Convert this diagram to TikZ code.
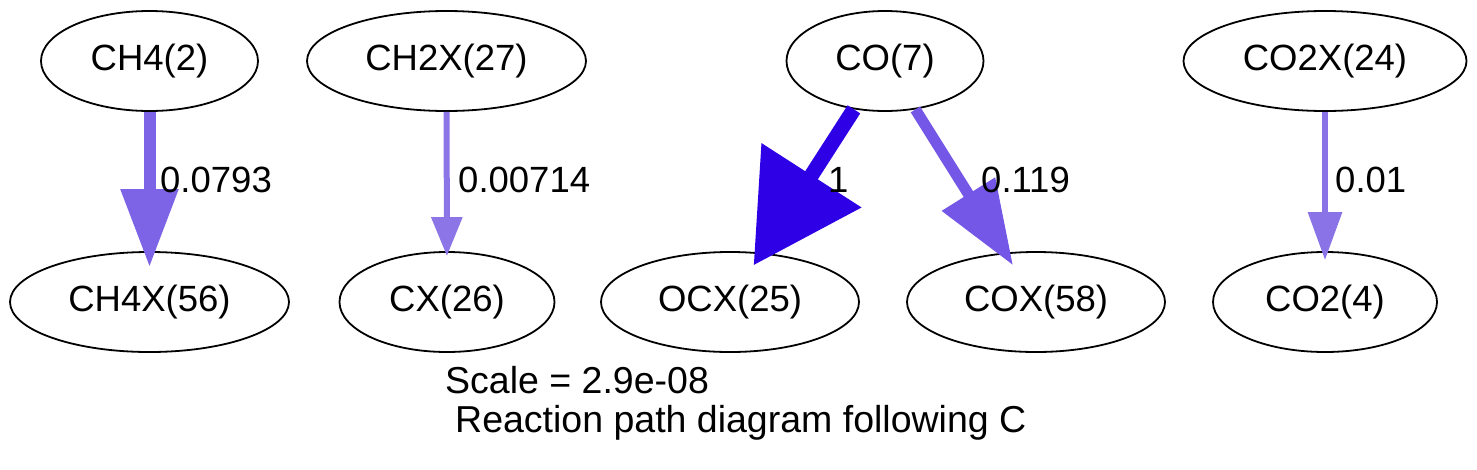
\documentclass[tikz,border=0pt]{standalone}
\usepackage{fontspec}
\setmainfont{Liberation Sans}
\usetikzlibrary{arrows.meta,shapes.geometric}
\definecolor{FluxFull}{RGB}{46,0,230}
\definecolor{FluxCOX}{RGB}{116,87,230}
\definecolor{FluxCHFour}{RGB}{125,99,230}
\definecolor{FluxCHTwoX}{RGB}{140,117,230}
\definecolor{FluxCOTwoX}{RGB}{138,115,230}

\begin{document}
\begin{tikzpicture}[x=1pt, y=-1pt,
    species/.style={ellipse, draw, line width=1.8pt, inner sep=0pt,
      minimum height=100pt, font=\fontsize{36.5}{44}\selectfont},
    flux/.style={inner sep=0pt, anchor=base west, font=\fontsize{36.5}{44}\selectfont},
    caption/.style={inner sep=0pt, anchor=base west, font=\fontsize{37.5}{45}\selectfont}]

    \useasboundingbox (0,0) rectangle (1477,469);

    % Especies de partida
    \node[species, minimum width=217pt] (CH4) at (149.5,61) {CH4(2)};
    \node[species, minimum width=279pt] (CH2X) at (446.5,61) {CH2X(27)};
    \node[species, minimum width=197pt] (CO) at (885,61) {CO(7)};
    \node[species, minimum width=283pt] (CO2X) at (1325,61) {CO2X(24)};

    % Especies de llegada
    \node[species, minimum width=279pt] (CH4X) at (149.5,302) {CH4X(56)};
    \node[species, minimum width=215pt] (CX) at (447,302) {CX(26)};
    \node[species, minimum width=258pt] (OCX) at (730,302) {OCX(25)};
    \node[species, minimum width=258pt] (COX) at (1036,302) {COX(58)};
    \node[species, minimum width=224pt] (CO2) at (1325,302) {CO2(4)};

    \draw[FluxCHFour, line width=12pt, shorten >=-16pt,
      -{Triangle[length=78pt, width=55pt]}] (CH4) -- (CH4X);
    \draw[FluxCHTwoX, line width=6pt, shorten >=-5pt,
      -{Triangle[length=39pt, width=30pt]}] (CH2X) -- (CX);
    \draw[FluxFull, line width=15pt, shorten >=-15pt,
      -{Triangle[length=107pt, width=115pt]}] (CO) -- (OCX);
    \draw[FluxCOX, line width=11pt, shorten >=-15pt,
      -{Triangle[length=84pt, width=60pt]}] (CO) -- (COX);
    \draw[FluxCOTwoX, line width=6pt, shorten >=-9pt,
      -{Triangle[length=48pt, width=33pt]}] (CO2X) -- (CO2);

    \node[flux] (fCH4) at (160,192) {0.0793};
    \node[flux] (fCH2X) at (458,192) {0.00714};
    \node[flux] (fOCX) at (828,192) {1};
    \node[flux] (fCOX) at (981,192) {0.119};
    \node[flux] (fCO2X) at (1335,192) {0.01};

    \node[caption] (scale) at (445,393) {Scale = 2.9e-08};
    \node[caption] (title) at (455,432) {Reaction path diagram following C};
\end{tikzpicture}
\end{document}
